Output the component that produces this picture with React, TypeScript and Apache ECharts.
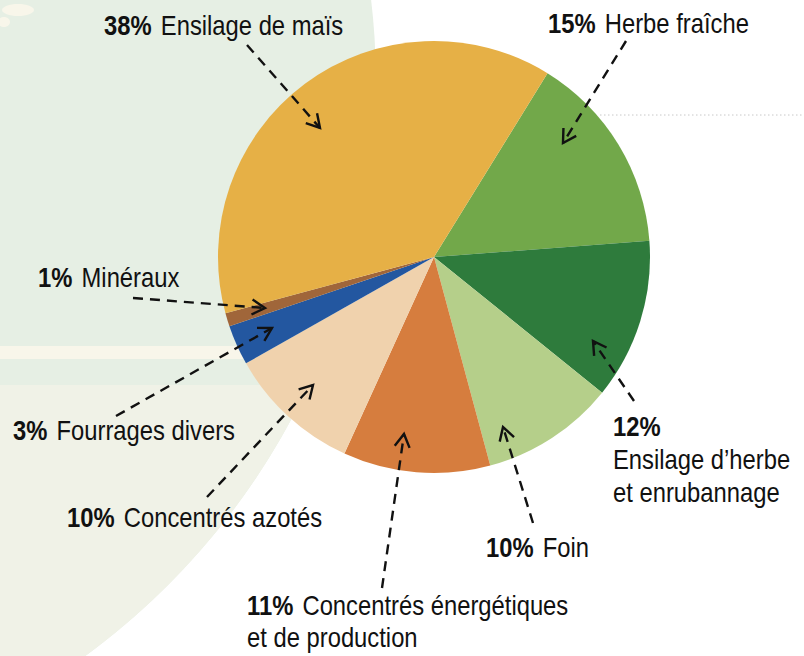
import React, { useEffect, useRef } from "react";
import * as echarts from "echarts";

// ---- data (clockwise from the top-right boundary) ----
const names = [
  "Herbe fraîche",
  "Ensilage d’herbe\net enrubannage",
  "Foin",
  "Concentrés énergétiques\net de production",
  "Concentrés azotés",
  "Fourrages divers",
  "Minéraux",
  "Ensilage de maïs",
];
const values = [15, 12, 10, 11, 10, 3, 1, 38];
const colors = ["#72A84A", "#2E7B3C", "#B5CF8A", "#D67D3E", "#F0D2AD", "#2357A0", "#A0663A", "#E6B046"];

// ---- annotation layout (label anchor: left x, middle of first line) ----
const labelPos: [number, number][] = [
  [548, 23], [613, 426], [486, 547], [247, 605], [67, 517], [13, 430], [38, 277], [104, 25],
];
// arrows: start -> tip
const arrows: [number, number, number, number][] = [
  [626, 41, 563, 143],
  [634, 401, 593, 341],
  [533, 523, 503, 427],
  [382, 588, 404, 434],
  [207, 497, 313, 385],
  [116, 416, 272, 328],
  [133, 298, 265, 308],
  [247, 45, 320, 128],
];

const LH = 33;
const SANS = '"Liberation Sans", Arial, sans-serif';
const SX = 0.85;

export default function App() {
  const ref = useRef<HTMLDivElement>(null);
  useEffect(() => {
    if (!ref.current) return;
    const chart = echarts.init(ref.current, undefined, { renderer: "svg" });

    // background big circle
    const bcx = -334, bcy = 83, bR = 710;
    const arcX = (y: number) => bcx + Math.sqrt(Math.max(0, bR * bR - (y - bcy) * (y - bcy)));
    const lowerPts: number[][] = [[0, 385]];
    for (let y = 385; y <= 656; y += 8) lowerPts.push([arcX(y), y]);
    lowerPts.push([arcX(656), 656], [0, 656]);

    const graphics: any[] = [
      { type: "circle", z: -10, shape: { cx: bcx, cy: bcy, r: bR }, style: { fill: "#E6EFE4" }, silent: true },
      { type: "polygon", z: -9, shape: { points: lowerPts }, style: { fill: "#F0F2E7" }, silent: true },
      { type: "rect", z: -9, shape: { x: 0, y: 346, width: arcX(351), height: 13 }, style: { fill: "#F8F6EA" }, silent: true },
      { type: "ellipse", z: -9, shape: { cx: 18, cy: 10, rx: 16, ry: 6 }, style: { fill: "#F8F6EA" }, silent: true },
      { type: "ellipse", z: -9, shape: { cx: 4, cy: 22, rx: 6, ry: 5 }, style: { fill: "#F8F6EA" }, silent: true },
      { type: "line", z: -5, shape: { x1: 600, y1: 115, x2: 804, y2: 115 }, style: { stroke: "#C8C8C8", lineWidth: 1, lineDash: [1.5, 2.5] }, silent: true },
    ];
    arrows.forEach(([x1, y1, x2, y2]) => {
      const ang = Math.atan2(y2 - y1, x2 - x1);
      const L = 15, a = Math.PI / 6;
      const p1 = [x2 - L * Math.cos(ang - a), y2 - L * Math.sin(ang - a)];
      const p2 = [x2 - L * Math.cos(ang + a), y2 - L * Math.sin(ang + a)];
      graphics.push({
        type: "line", z: 100, shape: { x1, y1, x2, y2 },
        style: { stroke: "#111", lineWidth: 2.4, lineDash: [10, 7] }, silent: true,
      });
      graphics.push({
        type: "polyline", z: 100, shape: { points: [p1, [x2, y2], p2] },
        style: { stroke: "#111", lineWidth: 2.4, fill: null }, silent: true,
      });
    });

    // labels built from the data arrays
    names.forEach((name, i) => {
      const lines = name.split("\n");
      const text =
        i === 1
          ? `{p|${values[i]}%}\n` + lines.map((l) => `{n|${l}}`).join("\n")
          : `{p|${values[i]}%}{n| ${lines[0]}}` + lines.slice(1).map((l) => `\n{n|${l}}`).join("");
      const [x, y] = labelPos[i];
      const lh = i === 3 ? 32 : LH;
      graphics.push({
        type: "text",
        z: 110,
        x,
        y: y - lh / 2,
        scaleX: SX,
        silent: true,
        style: {
          text,
          align: "left",
          verticalAlign: "top",
          rich: {
            p: { fontFamily: SANS, fontWeight: "bold", fontSize: 28, fill: "#111", lineHeight: lh, padding: [0, 3, 0, 0] },
            n: { fontFamily: SANS, fontSize: 28, fill: "#111", lineHeight: lh },
          },
        },
      });
    });

    chart.setOption({
      animation: false,
      graphic: graphics,
      series: [
        {
          type: "pie",
          center: [434, 257],
          radius: 216,
          startAngle: 58.3,
          clockwise: true,
          label: { show: false },
          labelLine: { show: false },
          itemStyle: { borderWidth: 0 },
          data: names.map((n, i) => ({ name: n, value: values[i], itemStyle: { color: colors[i] } })),
        },
      ],
    });
    return () => chart.dispose();
  }, []);
  return (
    <div
      ref={ref}
      style={{ position: "fixed", left: 0, top: 0, width: 804, height: 656, background: "#fff" }}
    />
  );
}
